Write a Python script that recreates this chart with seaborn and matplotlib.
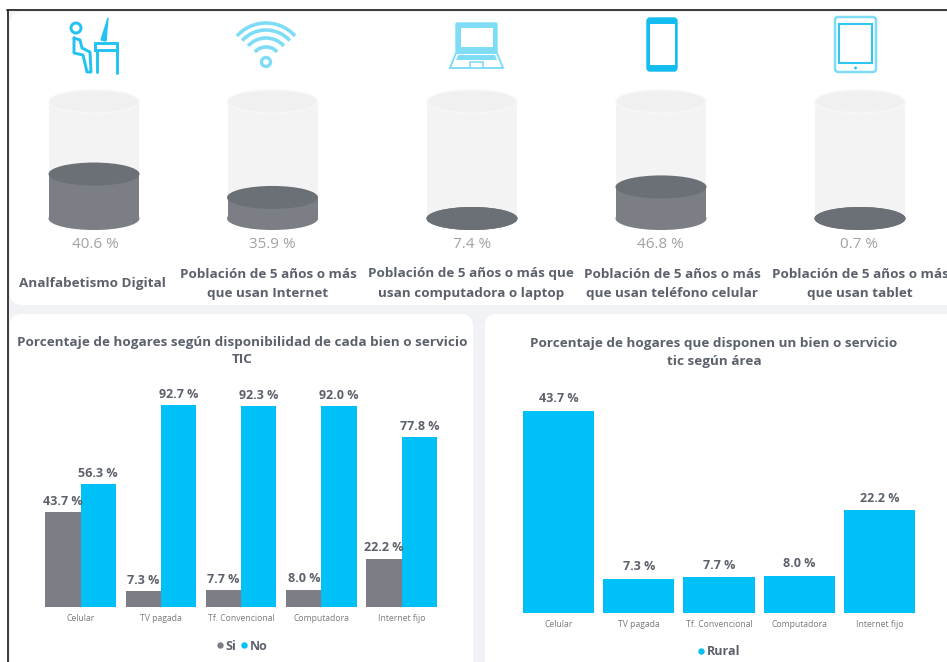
import matplotlib
matplotlib.use("Agg")
import matplotlib.pyplot as plt
from matplotlib.patches import Ellipse, Rectangle, FancyBboxPatch, Arc, Circle, Polygon
from matplotlib.lines import Line2D
import seaborn as sns
import pandas as pd

# ---------- data ----------
cyl_values = [40.6, 35.9, 7.4, 46.8, 0.7]
cyl_fill_levels = [38, 18, 0, 27, 0]   # visual fill of each cylinder, % of its height as drawn
cyl_captions = ["Analfabetismo Digital",
                "Población de 5 años o más\nque usan Internet",
                "Población de 5 años o más que\nusan computadora o laptop",
                "Población de 5 años o más\nque usan teléfono celular",
                "Población de 5 años o más\nque usan tablet"]
categories = ["Celular", "TV pagada", "Tf. Convencional", "Computadora", "Internet fijo"]
si_values = [43.7, 7.3, 7.7, 8.0, 22.2]
no_values = [56.3, 92.7, 92.3, 92.0, 77.8]
rural_values = [43.7, 7.3, 7.7, 8.0, 22.2]
title_left = "Porcentaje de hogares según disponibilidad de cada bien o servicio\nTIC"
title_right = "Porcentaje de hogares que disponen un bien o servicio\ntic según área"

# ---------- style ----------
W, H = 947, 662
GREY = "#7b7f85"
DARK = "#6b7076"
BLUE = "#00c0f8"
TXT = "#5b616b"
ICON = "#22c3f2"
ICON2 = "#7fdcf7"

sns.set_theme(style="white")
plt.rcParams["font.family"] = ["Open Sans", "DejaVu Sans"]

fig = plt.figure(figsize=(W / 100, H / 100), dpi=100, facecolor="white")


def px_axes(x0, y0, x1, y1, **kw):
    """Axes placed by pixel box (y measured from the top of the image)."""
    return fig.add_axes([x0 / W, 1 - y1 / H, (x1 - x0) / W, (y1 - y0) / H], **kw)


bg = px_axes(0, 0, W, H)
bg.set_xlim(0, W)
bg.set_ylim(H, 0)
bg.axis("off")
bg.set_zorder(0)

# dashboard background, frame and cards
bg.add_patch(Rectangle((7, 10), W - 7, H - 10, fc="#f0f2f5", ec="none"))
bg.add_line(Line2D([7, W], [10, 10], color="#2a2a2a", lw=1.3))
bg.add_line(Line2D([7.5, 7.5], [10, H], color="#2a2a2a", lw=1.3))


def card(x0, y0, x1, y1, r=12):
    bg.add_patch(FancyBboxPatch((x0 + r, y0 + r), x1 - x0 - 2 * r, y1 - y0 - 2 * r,
                                boxstyle=f"round,pad={r},rounding_size={r}",
                                fc="white", ec="none"))


card(10, 12, 962, 305)
card(10, 314, 473, 675)
card(485, 314, 962, 675)

# ---------- cylinders ----------
cyl_x = [94, 272.5, 472, 661, 860]
CW, CTOP, CBOT, EH = 90, 101.5, 218.5, 23


def cylinder(cx, level):
    y = CBOT - (CBOT - CTOP) * level / 100
    bg.add_patch(Rectangle((cx - CW / 2, CTOP), CW, CBOT - CTOP, fc="#f3f3f3", ec="none", zorder=2))
    bg.add_patch(Ellipse((cx, CTOP), CW, EH, fc="#f0f0f0", ec="#f7f7f7", lw=1, zorder=3))
    bg.add_patch(Ellipse((cx, CBOT), CW, EH, fc="#f3f3f3", ec="none", zorder=2))
    if level > 0:
        bg.add_patch(Rectangle((cx - CW / 2, y), CW, CBOT - y, fc=GREY, ec="none", zorder=4))
    bg.add_patch(Ellipse((cx, CBOT), CW + 1, EH, fc=DARK if level == 0 else GREY, ec="none", zorder=4))
    bg.add_patch(Ellipse((cx, y), CW + 1, EH, fc=DARK, ec="none", zorder=5))


for cx, level in zip(cyl_x, cyl_fill_levels):
    cylinder(cx, level)

value_x = [95, 272, 472, 660, 859]
for vx, v in zip(value_x, cyl_values):
    bg.text(vx, 245, f"{v:.1f} %", ha="center", va="center", fontsize=11, color="#a2a2a2", zorder=6)

caption_x = [92, 268, 471, 672, 860]
for cx, cap in zip(caption_x, cyl_captions):
    bg.text(cx, 284, cap, ha="center", va="center", fontsize=9.7, fontweight="bold",
            color=TXT, linespacing=1.7, zorder=6)

# ---------- icons ----------
lw_i = 2.1
# person at desk
bg.add_patch(Circle((76, 28), 5, fc="white", ec=ICON, lw=lw_i))
bg.add_line(Line2D([74, 74, 83, 87, 91, 90, 82, 80, 74],
                   [38, 53, 55, 72, 72, 52, 48, 40, 38], color=ICON, lw=lw_i))
bg.add_patch(Rectangle((95, 43), 22, 7, fc="white", ec=ICON, lw=lw_i))
bg.add_line(Line2D([97, 97], [50, 72], color=ICON, lw=lw_i))
bg.add_line(Line2D([117, 117], [50, 73], color=ICON, lw=lw_i))
bg.add_patch(Polygon([(101, 40), (108, 18), (106, 41)], fc=ICON, ec=ICON, lw=1))

# wifi
wc = (266, 62)
for r in (39, 32, 24, 15):
    bg.add_patch(Arc(wc, 2 * r, 2 * r, theta1=222, theta2=318, color=ICON2, lw=2.6))
bg.add_patch(Circle(wc, 4.5, fc="white", ec=ICON2, lw=2.4))

# laptop
bg.add_patch(FancyBboxPatch((456, 23), 41, 30, boxstyle="round,pad=0,rounding_size=1.5",
                            fc=ICON2, ec=ICON2, lw=1))
bg.add_patch(Rectangle((461, 28), 32, 19, fc="white", ec="none"))
bg.add_patch(Polygon([(456, 53), (497, 53), (503, 68), (450, 68)], fc="white", ec=ICON2, lw=1.4))
bg.add_patch(Polygon([(458, 55), (495, 55), (497, 60), (456, 60)], fc=ICON2, ec="none"))
bg.add_patch(Rectangle((470, 62), 13, 6, fc="white", ec=ICON2, lw=1.2))

# phone
bg.add_patch(FancyBboxPatch((647, 18), 30, 53, boxstyle="round,pad=0,rounding_size=3",
                            fc="#15bcef", ec="#15bcef", lw=1))
bg.add_patch(Rectangle((649.5, 24), 25, 41, fc="white", ec="none"))

# tablet
bg.add_patch(FancyBboxPatch((835, 17), 41, 55, boxstyle="round,pad=0,rounding_size=3.5",
                            fc="white", ec=ICON2, lw=1.8))
bg.add_patch(Rectangle((839, 24), 33, 39, fc="white", ec="#30c6f2", lw=1.5))
bg.add_patch(Circle((855.5, 68), 1.4, fc=ICON, ec="none"))


# ---------- bar charts ----------
def finish_axes(ax):
    ax.set_xlabel("")
    ax.set_ylabel("")
    ax.set_yticks([])
    ax.patch.set_alpha(0)
    sns.despine(ax=ax, left=True, bottom=True)
    ax.tick_params(axis="x", length=0, labelsize=6.2, labelcolor="#7a7a7a", pad=5)


def legend_handle(color, label):
    return Line2D([], [], ls="", marker="o", ms=3.6, color=color, label=label)


# left: grouped bars
ax1 = px_axes(40.35, 389, 441.85, 607)
ax1.set_zorder(2)
df_left = pd.DataFrame({
    "categoria": categories * 2,
    "valor": si_values + no_values,
    "respuesta": ["Si"] * len(categories) + ["No"] * len(categories),
})
sns.barplot(data=df_left, x="categoria", y="valor", hue="respuesta", order=categories,
            hue_order=["Si", "No"], palette=[GREY, BLUE], width=0.878, gap=0,
            dodge=True, saturation=1, errorbar=None, ax=ax1, legend=False, linewidth=0)
ax1.set_ylim(0, 100)
ax1.set_xlim(-0.5, 4.5)
finish_axes(ax1)
for cont in ax1.containers:
    ax1.bar_label(cont, fmt="%.1f %%", padding=3, fontsize=9, fontweight="bold", color=TXT)
ax1.legend(handles=[legend_handle(GREY, "Si"), legend_handle(BLUE, "No")], ncol=2, frameon=False,
           loc="center", bbox_to_anchor=(197 / 401.5, -39 / 218),
           labelcolor=TXT, handletextpad=-0.6, columnspacing=-0.3, prop={"weight": "bold", "size": 9})

# right: single series
ax2 = px_axes(518.4, 381.7, 919.6, 612.7)
ax2.set_zorder(2)
df_right = pd.DataFrame({"categoria": categories, "valor": rural_values})
sns.barplot(data=df_right, x="categoria", y="valor", order=categories, color=BLUE,
            width=0.885, saturation=1, errorbar=None, ax=ax2, linewidth=0)
ax2.set_ylim(0, 50)
ax2.set_xlim(-0.5, 4.5)
finish_axes(ax2)
ax2.bar_label(ax2.containers[0], fmt="%.1f %%", padding=4, fontsize=9, fontweight="bold", color=TXT)
ax2.legend(handles=[legend_handle(BLUE, "Rural")], frameon=False, loc="center",
           bbox_to_anchor=(196 / 401.2, -39 / 231), labelcolor=TXT, handletextpad=-0.6,
           prop={"weight": "bold", "size": 9})

# titles
bg.text(242, 351, title_left, ha="center", va="center", fontsize=9.7, fontweight="bold",
        color=TXT, linespacing=1.42)
bg.text(714, 352.5, title_right, ha="center", va="center", fontsize=9.7, fontweight="bold",
        color=TXT, linespacing=1.5)

fig.savefig("out.png", dpi=100, facecolor="white")
